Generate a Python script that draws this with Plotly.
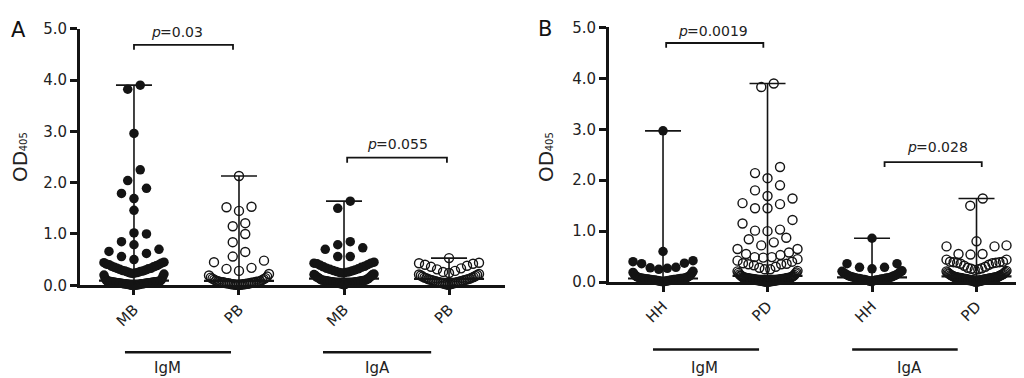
import numpy as np
import plotly.graph_objects as go

# ---------------- data (OD405 values) ----------------
A_labels = ["MB", "PB", "MB", "PB"]
B_labels = ["HH", "PD", "HH", "PD"]
group_names = ["IgM", "IgA"]

A_IgM_MB = [3.90, 3.82, 2.96, 2.25, 2.04, 1.89, 1.79, 1.69, 1.46, 1.02, 1.00, 0.85, 0.79, 0.70,
            0.66, 0.62, 0.56, 0.50,
            0.45, 0.44, 0.43, 0.41, 0.40, 0.40, 0.38, 0.37, 0.36, 0.35, 0.33, 0.33, 0.32, 0.31,
            0.30, 0.29, 0.28, 0.28, 0.27, 0.26, 0.25, 0.24, 0.24, 0.23,
            0.22, 0.20, 0.17, 0.14, 0.12, 0.10, 0.09,
            0.08, 0.08, 0.08, 0.08, 0.08, 0.07, 0.07, 0.07, 0.07, 0.07, 0.06, 0.06, 0.06, 0.06,
            0.06, 0.06, 0.05, 0.05, 0.05, 0.05, 0.05, 0.05, 0.04, 0.04, 0.04, 0.04, 0.04, 0.04,
            0.03, 0.03, 0.03, 0.03, 0.03, 0.03, 0.02, 0.02, 0.02, 0.02, 0.02, 0.01, 0.01, 0.01,
            0.01, 0.01, 0.00, 0.00, 0.00, 0.00]
A_IgM_PB = [2.13, 1.53, 1.52, 1.45, 1.21, 1.15, 1.00, 0.84, 0.65, 0.56, 0.48, 0.45, 0.34, 0.32,
            0.28, 0.22, 0.19, 0.17, 0.15, 0.14, 0.13, 0.12, 0.11, 0.10, 0.09, 0.08, 0.08, 0.07,
            0.07, 0.07, 0.06, 0.06, 0.06, 0.05, 0.05, 0.05, 0.04, 0.04, 0.04, 0.03, 0.03, 0.03,
            0.02, 0.02, 0.02, 0.02, 0.01, 0.01, 0.01, 0.01]
A_IgA_MB = [1.64, 1.50, 0.85, 0.79, 0.73, 0.70, 0.56, 0.56,
            0.45, 0.43, 0.43, 0.42, 0.40, 0.39, 0.37, 0.36, 0.35, 0.33, 0.32, 0.31, 0.30, 0.29,
            0.28, 0.27, 0.26, 0.25, 0.25, 0.24,
            0.22, 0.21, 0.21, 0.19, 0.18, 0.16, 0.16, 0.15, 0.13, 0.13, 0.12, 0.11,
            0.10, 0.10, 0.10, 0.10, 0.09, 0.09, 0.09, 0.09, 0.08, 0.08, 0.08, 0.08, 0.07, 0.07,
            0.07, 0.07, 0.06, 0.06, 0.06, 0.06, 0.05, 0.05, 0.05, 0.05, 0.04, 0.04, 0.04, 0.03,
            0.03, 0.03, 0.02, 0.02, 0.01]
A_IgA_PB = [0.53, 0.44, 0.43, 0.42, 0.40, 0.38, 0.36, 0.33, 0.31, 0.28, 0.26, 0.24, 0.22, 0.21,
            0.20, 0.19, 0.18, 0.17, 0.16, 0.15, 0.15, 0.14, 0.13, 0.12, 0.12, 0.11, 0.11, 0.10,
            0.10, 0.09, 0.09, 0.08, 0.08, 0.07, 0.07, 0.06, 0.06, 0.05, 0.05, 0.04, 0.04, 0.03,
            0.03, 0.02, 0.02, 0.01]

B_IgM_HH = [2.97, 0.60, 0.42, 0.40, 0.37, 0.36, 0.29, 0.28, 0.27, 0.25,
            0.21, 0.19, 0.17, 0.15, 0.13, 0.12, 0.11, 0.10, 0.10, 0.09,
            0.08, 0.08, 0.08, 0.08, 0.07, 0.07, 0.07, 0.07, 0.07, 0.06, 0.06, 0.06, 0.06, 0.06,
            0.05, 0.05, 0.05, 0.05, 0.05, 0.04, 0.04, 0.04, 0.04, 0.04, 0.03, 0.03, 0.03, 0.03,
            0.02, 0.02, 0.02, 0.02, 0.01, 0.01, 0.01]
B_IgM_PD = [3.90, 3.83, 2.26, 2.14, 2.04, 1.90, 1.80, 1.69, 1.64, 1.55, 1.53, 1.45, 1.45, 1.22,
            1.15, 1.03, 1.01, 1.00, 0.87, 0.84, 0.78, 0.72, 0.65, 0.65, 0.58, 0.55, 0.53, 0.49,
            0.49, 0.48, 0.45, 0.42, 0.40, 0.37, 0.36, 0.35, 0.35, 0.33, 0.30, 0.28, 0.25, 0.25,
            0.22, 0.21, 0.19, 0.18, 0.17, 0.15, 0.14, 0.13, 0.12, 0.12, 0.11, 0.10, 0.10, 0.09,
            0.09, 0.09,
            0.08, 0.08, 0.08, 0.08, 0.08, 0.07, 0.07, 0.07, 0.07, 0.07, 0.06, 0.06, 0.06, 0.06,
            0.06, 0.06, 0.05, 0.05, 0.05, 0.05, 0.05, 0.05, 0.04, 0.04, 0.04, 0.04, 0.04, 0.04,
            0.03, 0.03, 0.03, 0.03, 0.03, 0.03, 0.02, 0.02, 0.02, 0.02, 0.02, 0.01, 0.01, 0.01,
            0.01, 0.01]
B_IgA_HH = [0.86, 0.36, 0.36, 0.29, 0.29, 0.26,
            0.22, 0.21, 0.20, 0.18, 0.17, 0.16, 0.15, 0.14, 0.13, 0.12, 0.12, 0.11, 0.10, 0.10,
            0.09, 0.09, 0.08, 0.08, 0.08, 0.07, 0.07, 0.07, 0.06, 0.06, 0.06, 0.05, 0.05, 0.05,
            0.04, 0.04, 0.04, 0.03, 0.03, 0.02, 0.02, 0.01]
B_IgA_PD = [1.64, 1.50, 0.80, 0.72, 0.70, 0.70, 0.55, 0.55, 0.54, 0.44, 0.44, 0.40, 0.40, 0.39,
            0.39, 0.38, 0.38, 0.37, 0.36, 0.34, 0.32, 0.30, 0.28, 0.27, 0.26, 0.25, 0.24,
            0.22, 0.21, 0.20, 0.19, 0.18, 0.17, 0.16, 0.16, 0.15, 0.14, 0.14, 0.13, 0.13, 0.12,
            0.12, 0.11, 0.11, 0.10, 0.10, 0.10,
            0.09, 0.09, 0.09, 0.09, 0.09, 0.08, 0.08, 0.08, 0.08, 0.08, 0.07, 0.07, 0.07, 0.07,
            0.07, 0.06, 0.06, 0.06, 0.06, 0.06, 0.05, 0.05, 0.05, 0.05, 0.05, 0.04, 0.04, 0.04,
            0.04, 0.04, 0.03, 0.03, 0.03, 0.03, 0.02, 0.02, 0.02, 0.01, 0.01, 0.01]

A_pvalues = ["0.03", "0.055"]
B_pvalues = ["0.0019", "0.028"]

# ---------------- styling ----------------
INK = "#141414"
FONT = "DejaVu Sans"
W, H = 1024, 378

panels = {
    "A": dict(series=[A_IgM_MB, A_IgM_PB, A_IgA_MB, A_IgA_PB], filled=[True, False, True, False],
              labels=A_labels, xdom=[72 / W, 497 / W], xr=[-0.514, 3.533],
              ydom=[(H - 281.7) / H, (H - 12.3) / H], pxx=105.0, pxy=53.9, xa="x", ya="y"),
    "B": dict(series=[B_IgM_HH, B_IgM_PD, B_IgA_HH, B_IgA_PD], filled=[True, False, True, False],
              labels=B_labels, xdom=[601 / W, 1.0], xr=[-0.517, 3.531],
              ydom=[(H - 278.3) / H, (H - 11.0) / H], pxx=104.5, pxy=53.5, xa="x2", ya="y2"),
}


def swarm_offsets(vals, px_per_x, row_h=0.23, step_px=12.5, max_px=60.0):
    """GraphPad-like column scatter: rows of height row_h, centred outward placement."""
    v = np.asarray(vals, dtype=float)
    order = np.argsort(v, kind="stable")
    off = np.zeros(len(v))
    i = 0
    n = len(v)
    while i < n:
        start = v[order[i]]
        j = i
        while j < n and v[order[j]] < start + row_h - 1e-9:
            j += 1
        row = order[i:j]
        m = len(row)
        s = min(step_px, max_px / (m - 1)) if m > 1 else 0.0
        for k, idx in enumerate(row):
            if m % 2 == 1:
                pos = 0 if k == 0 else ((k + 1) // 2) * (-1 if k % 2 == 1 else 1)
            else:
                pos = (k // 2 + 0.5) * (-1 if k % 2 == 0 else 1)
            off[idx] = pos * s / px_per_x
        i = j
    return off


fig = go.Figure()
for key, p in panels.items():
    for i, (vals, filled) in enumerate(zip(p["series"], p["filled"])):
        vals = np.asarray(vals, dtype=float)
        xo = i + swarm_offsets(vals, p["pxx"])
        if filled:
            mk = dict(symbol="circle", size=9.5, color=INK, line=dict(width=0))
        else:
            mk = dict(symbol="circle-open", size=9, color=INK, line=dict(width=1.4))
        fig.add_trace(go.Scatter(x=xo, y=vals, mode="markers", marker=mk, xaxis=p["xa"],
                                 yaxis=p["ya"], cliponaxis=False, showlegend=False,
                                 hoverinfo="skip"))
        med, lo, hi = float(np.median(vals)), float(vals.min()), float(vals.max())
        cap = 18.0 / p["pxx"]
        mw = 35.0 / p["pxx"]
        fig.add_trace(go.Scatter(x=[i, i, None, i - cap, i + cap], y=[lo, hi, None, hi, hi],
                                 mode="lines", line=dict(color=INK, width=1.6), xaxis=p["xa"],
                                 yaxis=p["ya"], cliponaxis=False, showlegend=False,
                                 hoverinfo="skip"))
        fig.add_trace(go.Scatter(x=[i - mw, i + mw], y=[med, med], mode="lines",
                                 line=dict(color=INK, width=2.2), xaxis=p["xa"], yaxis=p["ya"],
                                 cliponaxis=False, showlegend=False, hoverinfo="skip"))

axis_common = dict(showgrid=False, zeroline=False, showline=True, linecolor=INK, ticks="outside",
                   tickcolor=INK, ticklen=7, tickwidth=2.5,
                   tickfont=dict(family=FONT, size=15, color="#222"))
layout = dict(width=W, height=H, margin=dict(l=0, r=0, t=0, b=0), paper_bgcolor="white",
              plot_bgcolor="white", showlegend=False)
for key, p in panels.items():
    xname = "xaxis" if p["xa"] == "x" else "xaxis2"
    yname = "yaxis" if p["ya"] == "y" else "yaxis2"
    layout[xname] = dict(axis_common, domain=p["xdom"], range=p["xr"], anchor=p["ya"],
                         tickmode="array", tickvals=[0, 1, 2, 3], ticktext=p["labels"],
                         tickangle=-45, linewidth=2.5, fixedrange=True)
    layout[yname] = dict(axis_common, domain=p["ydom"], range=[0, 5], anchor=p["xa"],
                         tickmode="array", tickvals=[0, 1, 2, 3, 4, 5],
                         ticktext=["0.0", "1.0", "2.0", "3.0", "4.0", "5.0"], linewidth=3,
                         fixedrange=True)
fig.update_layout(**layout)

shapes = []
annotations = []

# approximate DejaVu Sans advance widths (em) to split the italic "p" from the rest
ADV = {"p": 0.635, "=": 0.838, ".": 0.318}
PFS = 14
brackets = [
    ("x", "y", 0.0, 0.943, 4.684, 4.59, 0.40, 4.93, A_pvalues[0]),
    ("x", "y", 2.03, 2.98, 2.487, 2.39, 2.50, 2.76, A_pvalues[1]),
    ("x2", "y2", 0.03, 0.96, 4.695, 4.60, 0.466, 4.925, B_pvalues[0]),
    ("x2", "y2", 2.12, 3.05, 2.357, 2.26, 2.62, 2.65, B_pvalues[1]),
]
for xr, yr, x0, x1, yt, yb, tx, ty, lab in brackets:
    shapes.append(dict(type="path", xref=xr, yref=yr,
                       path=f"M {x0},{yb} L {x0},{yt} L {x1},{yt} L {x1},{yb}",
                       line=dict(color=INK, width=1.8)))
    rest = "=" + lab
    total = (ADV["p"] + sum(ADV.get(c, 0.636) for c in rest)) * PFS
    split = -total / 2 + ADV["p"] * PFS
    annotations.append(dict(xref=xr, yref=yr, x=tx, y=ty, text="p", xshift=split + 3,
                            showarrow=False, borderpad=0,
                            font=dict(family=FONT, size=PFS, color="#222", style="italic"),
                            xanchor="right", yanchor="middle"))
    annotations.append(dict(xref=xr, yref=yr, x=tx, y=ty, text=rest, xshift=split,
                            showarrow=False, borderpad=0,
                            font=dict(family=FONT, size=PFS, color="#222"),
                            xanchor="left", yanchor="middle"))

# group underline + labels
groups = [
    ("x", -0.086, 0.924, 0.32, (H - 352) / H),
    ("x", 1.80, 2.83, 2.32, (H - 352) / H),
    ("x2", -0.096, 0.919, 0.40, (H - 349) / H),
    ("x2", 1.81, 2.82, 2.36, (H - 349) / H),
]
for k, (xr, x0, x1, tx, ly) in enumerate(groups):
    shapes.append(dict(type="line", xref=xr, yref="paper", x0=x0, x1=x1, y0=ly, y1=ly,
                       line=dict(color=INK, width=2.5)))
    annotations.append(dict(xref=xr, yref="paper", x=tx, y=(H - 369) / H,
                            text=group_names[k % 2], showarrow=False,
                            font=dict(family=FONT, size=15, color="#222"),
                            xanchor="center", yanchor="middle"))

# panel letters and y titles (OD with subscript 405)
for letter, lx, ly, odx, subx in [("A", 10, 14, 11.5, 15.5), ("B", 537, 13, 537.5, 541.5)]:
    annotations.append(dict(xref="paper", yref="paper", x=lx / W, y=(H - ly) / H, text=letter,
                            showarrow=False, font=dict(family=FONT, size=21, color="#111"),
                            xanchor="center", yanchor="middle"))
    annotations.append(dict(xref="paper", yref="paper", x=odx / W, y=(H - 157) / H,
                            text="OD", textangle=-90, showarrow=False, borderpad=0,
                            font=dict(family=FONT, size=20, color="#222"),
                            xanchor="center", yanchor="middle"))
    annotations.append(dict(xref="paper", yref="paper", x=subx / W, y=(H - 131) / H,
                            text="405", textangle=-90, showarrow=False, borderpad=0,
                            font=dict(family=FONT, size=10, color="#222"),
                            xanchor="center", yanchor="middle"))

fig.update_layout(shapes=shapes, annotations=annotations)
fig.write_html("out.html")
